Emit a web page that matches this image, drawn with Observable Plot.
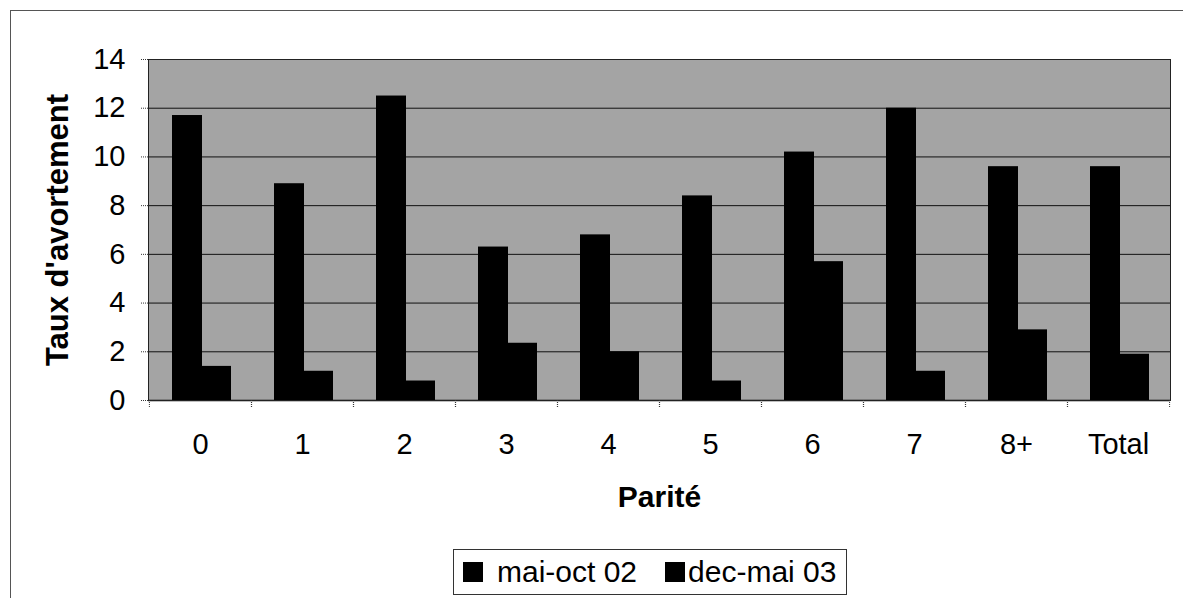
<!DOCTYPE html>
<html>
<head>
<meta charset="utf-8">
<script src="https://cdn.jsdelivr.net/npm/d3@7"></script>
<script src="https://cdn.jsdelivr.net/npm/@observablehq/plot@0.6"></script>
<style>
  html, body { margin: 0; padding: 0; background: #fff; }
  body { width: 1183px; height: 598px; overflow: hidden; position: relative; font-family: Arial, "Liberation Sans", sans-serif; }
  #outer { position: absolute; left: 10px; top: 10px; width: 1200px; height: 620px; border: 1px solid #555; pointer-events: none; }
  #chart { position: absolute; left: 0; top: 0; }
  #legend { position: absolute; left: 453px; top: 549px; height: 44px; border: 1px solid #333; background: #fff;
            display: flex; align-items: center; padding: 0 10px 0 9px; font-size: 30px; color: #000; white-space: nowrap; }
  #legend .sw { display: inline-block; width: 20px; height: 20px; background: #000; margin-right: 14px; }
  #legend .item { display: inline-flex; align-items: center; }
  #legend .item + .item { margin-left: 28px; }
  #legend .item + .item .sw { margin-right: 3px; }
</style>
</head>
<body>
<div id="chart"></div>
<div id="legend"></div>
<div id="outer"></div>
<script>
const categories = ["0", "1", "2", "3", "4", "5", "6", "7", "8+", "Total"];
const maiOct02 = [11.7, 8.9, 12.5, 6.3, 6.8, 8.4, 10.2, 12.0, 9.6, 9.6];
const decMai03 = [1.4, 1.2, 0.8, 2.35, 2.0, 0.8, 5.7, 1.2, 2.9, 1.9];
const seriesNames = ["mai-oct 02", "dec-mai 03"];
const yTicks = [0, 2, 4, 6, 8, 10, 12, 14];
const xTitle = "Parité";
const yTitle = "Taux d'avortement";

const rows = categories.map((c, i) => ({cat: c, a: maiOct02[i], b: decMai03[i]}));

const chart = Plot.plot({
  width: 1183,
  height: 545,
  marginTop: 59,
  marginLeft: 148,
  marginRight: 13,
  marginBottom: 145,
  style: {fontFamily: "Arial, 'Liberation Sans', sans-serif", fontSize: "29px", color: "#000", background: "transparent", overflow: "visible"},
  x: {domain: categories, padding: 0},
  y: {domain: [0, 14]},
  marks: [
    Plot.frame({fill: "url(#dither)"}),
    Plot.gridY(yTicks.slice(1), {stroke: "#111", strokeOpacity: 1, strokeWidth: 1}),
    Plot.barY(rows, {x: "cat", y: "a", fill: "#000", insetLeft: 23, insetRight: 49}),
    Plot.barY(rows, {x: "cat", y: "b", fill: "#000", insetLeft: 53, insetRight: 20}),
    Plot.ruleY([0], {stroke: "#000", strokeWidth: 1.5}),
    Plot.frame({stroke: "#222"}),
    Plot.axisY(yTicks, {tickSize: 8, tickPadding: 15, label: null, fontSize: 29, stroke: "#333", strokeDasharray: "1,1"}),
    Plot.axisX({tickSize: 0, tickPadding: 33, label: null, fontSize: 29}),
    Plot.axisX({tickSize: 7, tickFormat: () => "", label: null, dx: -51.1, stroke: "#333", strokeDasharray: "1,1"}),
    Plot.axisX({tickSize: 7, tickFormat: () => "", label: null, dx: 51.1, stroke: "#333", strokeDasharray: "1,1"}),
    Plot.text([xTitle], {frameAnchor: "bottom", dy: 106, fontSize: 30, fontWeight: "bold", fill: "#000"}),
    Plot.text([yTitle], {frameAnchor: "left", textAnchor: "middle", dx: -90, rotate: -90, fontSize: 31, fontWeight: "bold", fill: "#000"})
  ]
});

// dithered grey background pattern
const defs = d3.select(chart).insert("defs", ":first-child");
const pat = defs.append("pattern").attr("id", "dither").attr("width", 2).attr("height", 2).attr("patternUnits", "userSpaceOnUse");
pat.append("rect").attr("width", 2).attr("height", 2).attr("fill", "#f2f2f2");
pat.append("rect").attr("width", 1).attr("height", 1).attr("fill", "#555");
pat.append("rect").attr("x", 1).attr("y", 1).attr("width", 1).attr("height", 1).attr("fill", "#555");

document.getElementById("chart").appendChild(chart);

const legend = d3.select("#legend");
seriesNames.forEach(name => {
  const item = legend.append("span").attr("class", "item");
  item.append("span").attr("class", "sw");
  item.append("span").text(name);
});
</script>
</body>
</html>
